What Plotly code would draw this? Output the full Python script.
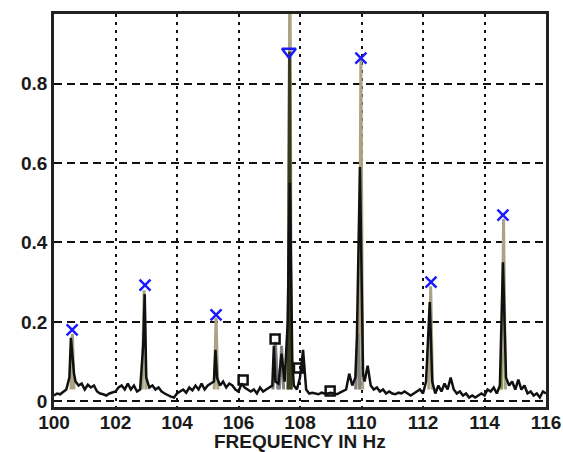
import plotly.graph_objects as go

# black spectrum (noise + partial peaks)
freq_black = [100.0, 100.1, 100.2, 100.3, 100.4, 100.5, 100.55, 100.65, 100.7, 100.8, 100.9,
              101.0, 101.1, 101.2, 101.3, 101.4, 101.5, 101.6, 101.7, 101.8, 101.9,
              102.0, 102.1, 102.2, 102.3, 102.4, 102.5, 102.6, 102.7, 102.8, 102.9, 102.95,
              103.0, 103.1, 103.2, 103.3, 103.4, 103.5, 103.6, 103.7, 103.8, 103.9,
              104.0, 104.1, 104.2, 104.3, 104.4, 104.5, 104.6, 104.7, 104.8, 104.9,
              105.0, 105.1, 105.2, 105.25, 105.3, 105.4, 105.5, 105.6, 105.7, 105.8, 105.9,
              106.0, 106.1, 106.2, 106.3, 106.4, 106.5, 106.6, 106.7, 106.8, 106.9,
              107.0, 107.1, 107.15, 107.2, 107.3, 107.4, 107.5, 107.6, 107.67, 107.75, 107.8, 107.9,
              108.0, 108.1, 108.2, 108.3, 108.4, 108.5, 108.6, 108.7, 108.8, 108.9,
              109.0, 109.1, 109.2, 109.3, 109.4, 109.5, 109.6, 109.7, 109.8, 109.85, 109.95,
              110.05, 110.1, 110.2, 110.3, 110.4, 110.5, 110.6, 110.7, 110.8, 110.9,
              111.0, 111.1, 111.2, 111.3, 111.4, 111.5, 111.6, 111.7, 111.8, 111.9,
              112.0, 112.1, 112.22, 112.3, 112.4, 112.5, 112.6, 112.7, 112.8, 112.9,
              113.0, 113.1, 113.2, 113.3, 113.4, 113.5, 113.6, 113.7, 113.8, 113.9,
              114.0, 114.1, 114.2, 114.3, 114.4, 114.5, 114.6, 114.7, 114.8, 114.9,
              115.0, 115.1, 115.2, 115.3, 115.4, 115.5, 115.6, 115.7, 115.8, 115.9, 116.0]
amp_black = [0.015, 0.02, 0.018, 0.025, 0.03, 0.06, 0.16, 0.07, 0.05, 0.04, 0.045,
             0.03, 0.042, 0.035, 0.04, 0.025, 0.02, 0.018, 0.015, 0.02, 0.022,
             0.025, 0.035, 0.04, 0.03, 0.045, 0.03, 0.04, 0.025, 0.03, 0.14, 0.27,
             0.06, 0.035, 0.04, 0.03, 0.035, 0.025, 0.02, 0.015, 0.012, 0.01,
             0.02, 0.025, 0.03, 0.022, 0.035, 0.028, 0.04, 0.03, 0.045, 0.03,
             0.04, 0.045, 0.05, 0.13, 0.06, 0.04, 0.05, 0.035, 0.045, 0.04, 0.03,
             0.025, 0.045, 0.035, 0.03, 0.025, 0.03, 0.02, 0.035, 0.025, 0.03,
             0.035, 0.04, 0.14, 0.05, 0.045, 0.12, 0.05, 0.2, 0.55, 0.1, 0.04, 0.03,
             0.06, 0.13, 0.03, 0.02, 0.022, 0.02, 0.018, 0.022, 0.02, 0.02,
             0.022, 0.02, 0.018, 0.022, 0.025, 0.03, 0.07, 0.04, 0.06, 0.16, 0.59,
             0.07, 0.05, 0.09, 0.04, 0.03, 0.035, 0.025, 0.03, 0.02, 0.025,
             0.02, 0.018, 0.022, 0.02, 0.025, 0.02, 0.015, 0.02, 0.025, 0.03,
             0.02, 0.05, 0.25, 0.05, 0.02, 0.04, 0.025, 0.045, 0.03, 0.06,
             0.03, 0.02, 0.025, 0.015, 0.02, 0.01, 0.015, 0.01, 0.015, 0.02,
             0.015, 0.03, 0.025, 0.035, 0.02, 0.04, 0.35, 0.06, 0.04, 0.05,
             0.03, 0.055, 0.03, 0.04, 0.02, 0.025, 0.015, 0.02, 0.01, 0.025, 0.02]

# tan spectrum (full peaks only; None separates the peaks)
freq_tan = [100.55, 100.6, 100.65, None, 102.87, 102.93, 102.99, None, 105.21, 105.27, 105.33, None,
            107.62, 107.67, 107.72, None, 109.92, 109.98, 110.04, None, 112.19, 112.25, 112.31, None,
            114.56, 114.62, 114.68]
amp_tan = [0.03, 0.17, 0.03, None, 0.03, 0.28, 0.03, None, 0.03, 0.21, 0.03, None,
           0.03, 1.2, 0.03, None, 0.03, 0.86, 0.03, None, 0.03, 0.29, 0.03, None,
           0.03, 0.46, 0.03]

# dark olive trace for the main line
freq_olive = [107.61, 107.66, 107.71]
amp_olive = [0.03, 0.88, 0.03]

# grey sidebands
freq_grey = [107.12, 107.2, 107.28, None, 107.33, 107.4, 107.47, None, 109.81, 109.88, 109.95]
amp_grey = [0.03, 0.15, 0.03, None, 0.03, 0.14, 0.03, None, 0.03, 0.17, 0.03]

# green line at the last peak
freq_green = [114.55, 114.55]
amp_green = [0.03, 0.12]

# peak markers
x_cross = [100.59, 102.96, 105.27, 109.98, 112.26, 114.6]
y_cross = [0.18, 0.293, 0.218, 0.864, 0.30, 0.469]
x_tri = [107.64]
y_tri = [0.88]
x_sq = [106.15, 107.19, 107.95, 108.98]
y_sq = [0.054, 0.157, 0.084, 0.026]

fig = go.Figure()
fig.add_trace(go.Scatter(x=freq_tan, y=amp_tan, mode="lines", connectgaps=False,
                         line=dict(color="#aaa384", width=3), showlegend=False))
fig.add_trace(go.Scatter(x=freq_grey, y=amp_grey, mode="lines", connectgaps=False,
                         line=dict(color="#808080", width=3), showlegend=False))
fig.add_trace(go.Scatter(x=freq_green, y=amp_green, mode="lines",
                         line=dict(color="#7a9a3a", width=2), showlegend=False))
fig.add_trace(go.Scatter(x=freq_olive, y=amp_olive, mode="lines",
                         line=dict(color="#3a3a1c", width=3), showlegend=False))
fig.add_trace(go.Scatter(x=freq_black, y=amp_black, mode="lines",
                         line=dict(color="#111111", width=2.5), showlegend=False))
fig.add_trace(go.Scatter(x=x_cross, y=y_cross, mode="markers",
                         marker=dict(symbol="x-thin-open", size=11, color="#1a1aff",
                                     line=dict(color="#1a1aff", width=2.5)),
                         showlegend=False))
fig.add_trace(go.Scatter(x=x_tri, y=y_tri, mode="markers",
                         marker=dict(symbol="triangle-down-open", size=12, color="#1a1aff",
                                     line=dict(color="#1a1aff", width=2.5)),
                         showlegend=False))
fig.add_trace(go.Scatter(x=x_sq, y=y_sq, mode="markers",
                         marker=dict(symbol="square-open", size=9, color="#111111",
                                     line=dict(color="#111111", width=2.5)),
                         showlegend=False))

font_family = "Liberation Sans, Arial, sans-serif"
tickfont = dict(family=font_family, size=19, color="#1a1a1a", weight="bold")
fig.update_layout(
    width=563, height=452,
    margin=dict(l=54, r=17, t=14, b=45),
    paper_bgcolor="white", plot_bgcolor="white",
    xaxis=dict(range=[100, 116], tickvals=[100, 102, 104, 106, 108, 110, 112, 114, 116],
               ticks="", showgrid=True, gridcolor="#111111", gridwidth=2, griddash="3px,5px",
               showline=True, linecolor="#222222", linewidth=2.5, mirror=True, zeroline=False,
               tickfont=tickfont, automargin=False, ticklabelstandoff=-4),
    yaxis=dict(range=[-0.014, 0.975], tickvals=[0, 0.2, 0.4, 0.6, 0.8],
               ticktext=["0", "0.2", "0.4", "0.6", "0.8"],
               ticks="", showgrid=True, gridcolor="#111111", gridwidth=2, griddash="8px,5px",
               showline=True, linecolor="#222222", linewidth=2.5, mirror=True, zeroline=False,
               tickfont=tickfont, automargin=False),
    annotations=[dict(text="FREQUENCY IN Hz", xref="paper", yref="paper", x=0.5, y=0,
                      yanchor="middle", yshift=-34, showarrow=False,
                      font=dict(family=font_family, size=19, color="#1a1a1a", weight="bold"))],
)
fig.write_html("out.html")
